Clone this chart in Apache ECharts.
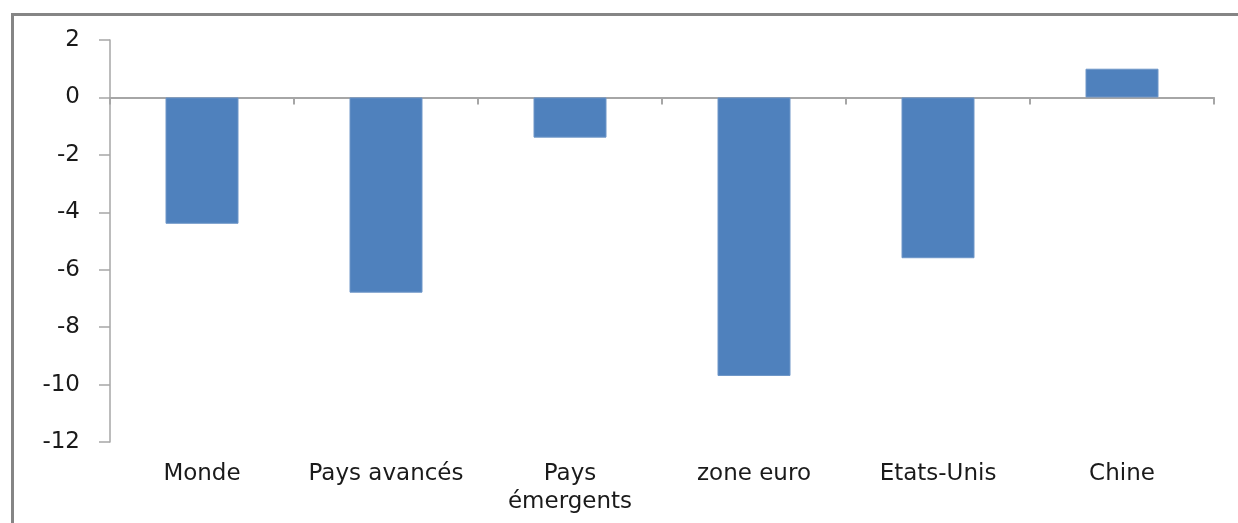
<!DOCTYPE html>
<html>
<head>
<meta charset="utf-8">
<script src="https://cdn.jsdelivr.net/npm/echarts@6/dist/echarts.min.js"></script>
<style>
  html, body { margin: 0; padding: 0; background: #fff; }
  #chart { width: 1238px; height: 523px; }
</style>
</head>
<body>
<div id="chart"></div>
<script>
const categories = ['Monde', 'Pays avancés', 'Pays émergents', 'zone euro', 'Etats-Unis', 'Chine']
const tickLabels = ['Monde', 'Pays avancés', 'Pays\némergents', 'zone euro', 'Etats-Unis', 'Chine']
const values = [-4.4, -6.8, -1.4, -9.7, -5.6, 1.0]

const FONT = '"DejaVu Sans", sans-serif'
const AXIS_GRAY = '#a6a6a6'
const TEXT = '#1a1a1a'

const chart = echarts.init(document.getElementById('chart'))

chart.setOption({
  animation: false,
  graphic: [{
    type: 'rect',
    left: 10, top: 12,
    shape: { width: 1400, height: 700 },
    style: { fill: 'none', stroke: '#858585', lineWidth: 3 },
    silent: true
  }],
  grid: { left: 110, right: 24, top: 40, bottom: 81 },
  xAxis: [{
    type: 'category',
    data: categories,
    position: 'bottom',
    axisLine: { show: false, onZero: false },
    axisTick: { show: false },
    axisLabel: {
      interval: 0,
      margin: 18,
      fontFamily: FONT,
      fontSize: 23,
      color: TEXT,
      lineHeight: 28,
      formatter: (v, i) => tickLabels[i]
    }
  }, {
    type: 'category',
    data: categories,
    position: 'bottom',
    axisLine: { show: true, onZero: true, lineStyle: { color: AXIS_GRAY, width: 2 } },
    axisTick: { show: true, interval: 0, length: 7, lineStyle: { color: AXIS_GRAY, width: 2 } },
    axisLabel: { show: false },
    splitLine: { show: false }
  }],
  yAxis: {
    type: 'value',
    min: -12,
    max: 2,
    interval: 2,
    axisLine: { show: true, lineStyle: { color: AXIS_GRAY, width: 1.5 } },
    axisTick: { show: true, length: 11, lineStyle: { color: AXIS_GRAY, width: 1.5 } },
    axisLabel: {
      margin: 30,
      fontFamily: FONT,
      fontSize: 23,
      color: TEXT
    },
    splitLine: { show: false }
  },
  series: [{
    type: 'bar',
    xAxisIndex: 0,
    data: values,
    barWidth: 73,
    itemStyle: { color: '#4f81bd', borderColor: '#6e96c8', borderWidth: 1 }
  }]
})
</script>
</body>
</html>
